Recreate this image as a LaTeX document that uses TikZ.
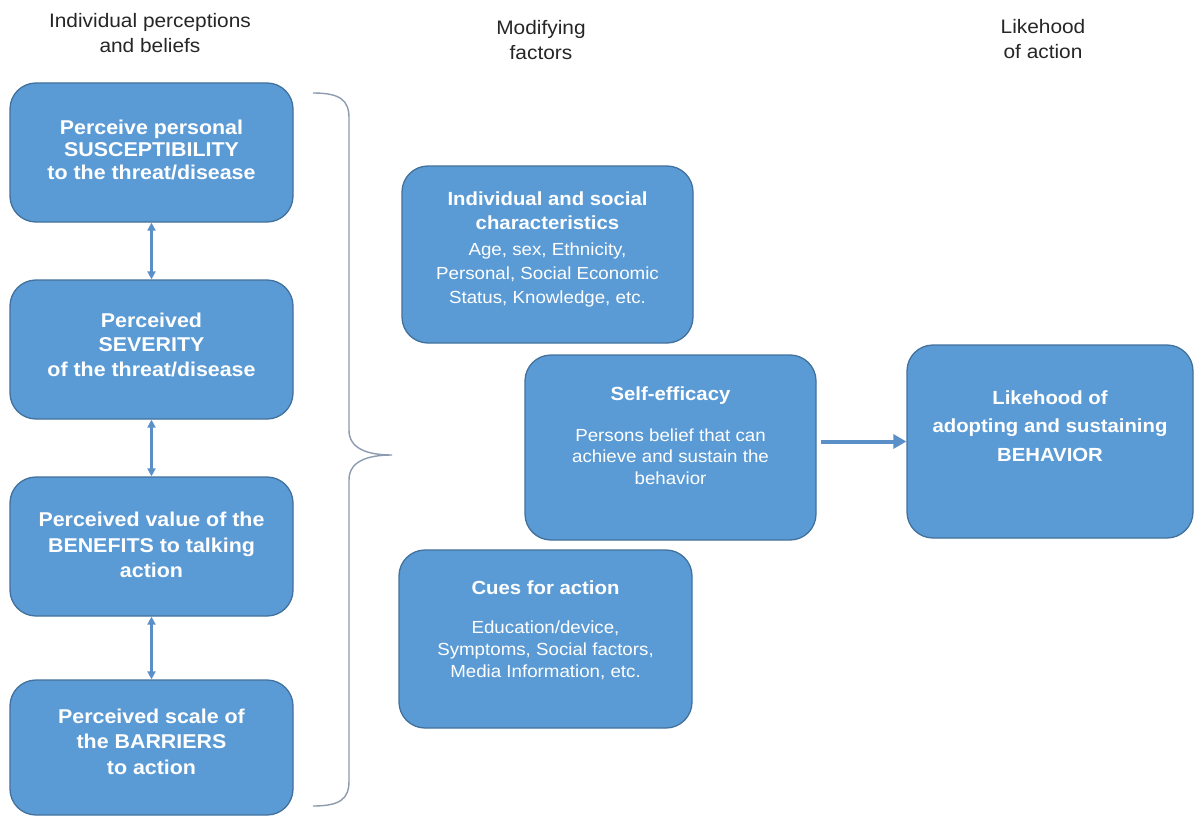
\documentclass[tikz,border=0pt]{standalone}
\usepackage{fontspec}
\setmainfont{Liberation Sans}[FakeStretch=1.07]
\usetikzlibrary{arrows.meta}

\definecolor{boxfill}{HTML}{5B9BD5}
\definecolor{boxline}{HTML}{41719C}
\definecolor{arrowc}{HTML}{5A8FC8}
\definecolor{bracec}{RGB}{140,155,175}
\definecolor{headc}{HTML}{262626}

\tikzset{
  card/.style={draw=boxline, fill=boxfill, line width=1.3pt,
    rounded corners=26pt, inner sep=0pt},
  leftcard/.style={card, minimum width=283pt, minimum height=139pt},
  midcard/.style={card, minimum width=291pt},
  cardtext/.style={text=white, align=center, inner sep=0pt},
  boldtext/.style={cardtext, font=\bfseries\fontsize{20}{#1}\selectfont},
  titletext/.style={cardtext, font=\bfseries\fontsize{19}{#1}\selectfont},
  bodytext/.style={cardtext, font=\fontsize{17.5}{#1}\selectfont},
  headtext/.style={text=headc, align=center, inner sep=0pt,
    font=\fontsize{19.5}{25}\selectfont},
  varrow/.style={{Triangle[length=8pt,width=8pt]}-{Triangle[length=8pt,width=8pt]},
    line width=2.5pt, draw=arrowc},
  harrow/.style={-{Triangle[length=13pt,width=14pt]}, line width=4pt,
    draw=arrowc, shorten <=4pt},
  bracket/.style={draw=bracec, line width=1.4pt}
}

\begin{document}
\begin{tikzpicture}[x=1pt,y=-1pt]
\useasboundingbox (0,0) rectangle (1195,816);
\fill[white] (0,0) rectangle (1195,816);

% column headings
\node[headtext] (h1) at (150,33.5) {Individual perceptions\\and beliefs};
\node[headtext] (h2) at (541,40) {Modifying\\factors};
\node[headtext] (h3) at (1043,39.5) {Likehood\\of action};

% perceptions column
\node[leftcard] (sus) at (151.5,152.5) {};
\node[boldtext=22.5] (sus-t) at (151.5,149.5)
  {Perceive personal\\SUSCEPTIBILITY\\to the threat/disease};
\node[leftcard] (sev) at (151.5,349.5) {};
\node[boldtext=24.5] (sev-t) at (151.5,344.5)
  {Perceived\\SEVERITY\\of the threat/disease};
\node[leftcard] (ben) at (151.5,546.5) {};
\node[boldtext=25.5] (ben-t) at (151.5,545)
  {Perceived value of the\\BENEFITS to talking\\action};
\node[leftcard, minimum height=135pt] (bar) at (151.5,747.5) {};
\node[boldtext=25.5] (bar-t) at (151.5,741.5)
  {Perceived scale of\\the BARRIERS\\to action};

\draw[varrow] (sus.south) -- (sev.north);
\draw[varrow] (sev.south) -- (ben.north);
\draw[varrow] (ben.south) -- (bar.north);

% brace gathering the perceptions
\coordinate (br-top) at (313,93);
\coordinate (br-tip) at (392,455);
\coordinate (br-bot) at (313,806);
\draw[bracket] (br-top) .. controls (340,93) and (349,100) .. (349,118)
  -- (349,430) .. controls (349,448) and (366,455) .. (br-tip)
  .. controls (366,455) and (349,462) .. (349,480)
  -- (349,781) .. controls (349,799) and (340,806) .. (br-bot);

% modifying factors
\node[midcard, minimum height=177pt] (chr) at (547.5,254.5) {};
\node[titletext=24] (chr-t) at (547.5,211) {Individual and social\\characteristics};
\node[bodytext=24] (chr-b) at (547.5,275)
  {Age, sex, Ethnicity,\\Personal, Social Economic\\Status, Knowledge, etc.};

\node[midcard, minimum height=185pt] (eff) at (670.5,447.5) {};
\node[titletext=24, text height=13.7pt, text depth=0pt] (eff-t) at (670.5,394) {Self-efficacy};
\node[bodytext=21.5] (eff-b) at (670.5,456.5)
  {Persons belief that can\\achieve and sustain the\\behavior};

\node[midcard, minimum width=293pt, minimum height=178pt] (cue) at (545.5,639) {};
\node[titletext=24, text height=13.7pt, text depth=0pt] (cue-t) at (545.5,588) {Cues for action};
\node[bodytext=22] (cue-b) at (545.5,650)
  {Education/device,\\Symptoms, Social factors,\\Media Information, etc.};

% outcome
\node[card, minimum width=286pt, minimum height=193pt] (beh) at (1050,441.5) {};
\node[titletext=28.5] (beh-t) at (1050,426)
  {Likehood of\\adopting and sustaining\\BEHAVIOR};

\draw[harrow] (eff.east |- beh.west) -- (beh.west);
\end{tikzpicture}
\end{document}
